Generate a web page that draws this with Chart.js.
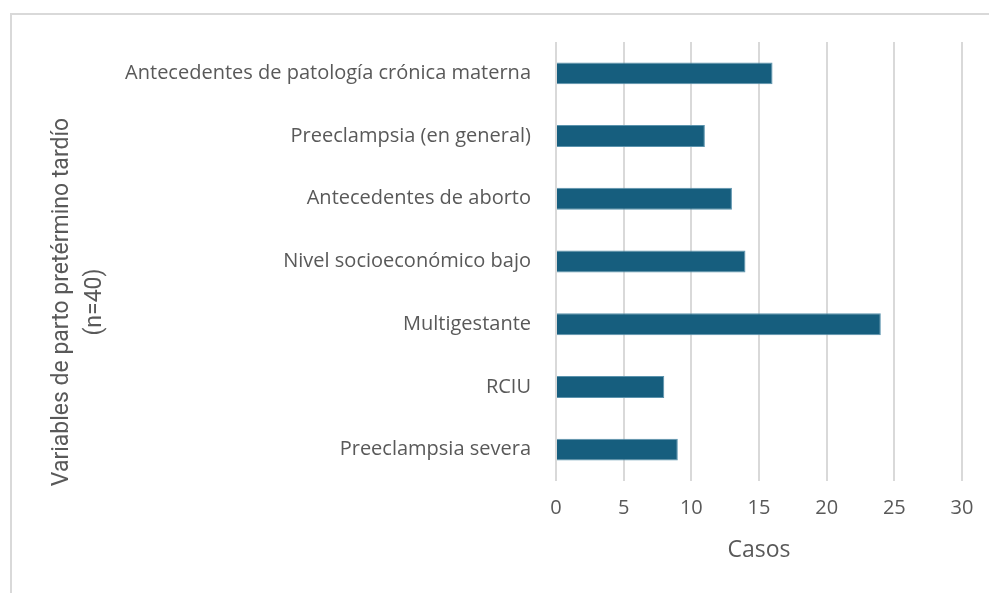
<!DOCTYPE html>
<html>
<head>
<meta charset="utf-8">
<script src="https://cdn.jsdelivr.net/npm/chart.js@4.4.1/dist/chart.umd.min.js"></script>
<style>
  html, body { margin: 0; padding: 0; background: #fff; }
  #wrap { position: relative; width: 989px; height: 593px; overflow: hidden; }
  #frame {
    position: absolute; left: 10px; top: 13px; width: 1000px; height: 600px;
    border-top: 2px solid #d9d9d9; border-left: 2px solid #d9d9d9;
  }
  canvas { position: absolute; left: 0; top: 0; }
</style>
</head>
<body>
<div id="wrap">
  <div id="frame"></div>
  <canvas id="chart" width="989" height="593"></canvas>
</div>
<script>
// data
const categories = [
  'Antecedentes de patología crónica materna',
  'Preeclampsia (en general)',
  'Antecedentes de aborto',
  'Nivel socioeconómico bajo',
  'Multigestante',
  'RCIU',
  'Preeclampsia severa'
];
const casos = [16, 11, 13, 14, 24, 8, 9];
const xMin = 0;
const xMax = 30;
const xStep = 5;

const yTitle = ['Variables de parto pretérmino tardío', '(n=40)'];
const xTitle = 'Casos';

const grayText = '#595959';
const gridGray = '#d9d9d9';
const barBlue = '#165e7e';

// the y title sits centred on the whole frame, not on the plot area,
// so it is drawn here instead of by the scale
const yTitlePlugin = {
    id: 'yTitleFrame',
    afterDraw(chart) {
        const c = chart.ctx;
        const lh = 33;
        c.save();
        c.fillStyle = grayText;
        c.font = "23px 'Roboto', 'Liberation Sans', sans-serif";
        c.textAlign = 'center';
        c.textBaseline = 'middle';
        c.translate(62, 302);
        c.rotate(-Math.PI / 2);
        yTitle.forEach((line, i) => c.fillText(line, 0, i * lh));
        c.restore();
    }
};

const ctx = document.getElementById('chart').getContext('2d');

new Chart(ctx, {
    type: 'bar',
    data: {
        labels: categories,
        datasets: [{
            label: 'Casos',
            data: casos,
            backgroundColor: barBlue,
            borderColor: '#5b93ad',
            borderWidth: 1,
            barPercentage: 0.35,
            categoryPercentage: 1.0
        }]
    },
    options: {
        indexAxis: 'y',
        responsive: false,
        animation: false,
        layout: { padding: { top: 42, right: 27, left: 0, bottom: 0 } },
        plugins: {
            legend: { display: false },
            tooltip: { enabled: false }
        },
        scales: {
            y: {
                grid: { display: false, drawTicks: false },
                border: { display: false },
                ticks: {
                    color: grayText,
                    padding: 25,
                    font: { family: 'Open Sans', size: 20 }
                },
                afterFit: (scale) => { scale.width = 556; }
            },
            x: {
                min: xMin,
                max: xMax,
                grid: { color: gridGray, lineWidth: 2, drawTicks: false },
                border: { display: false },
                ticks: {
                    stepSize: xStep,
                    color: grayText,
                    padding: 15,
                    font: { family: 'Open Sans', size: 20 }
                },
                title: {
                    display: true,
                    text: xTitle,
                    color: grayText,
                    padding: { top: 0, bottom: 29 },
                    font: { family: 'Open Sans', size: 23 }
                },
                afterFit: (scale) => { scale.height = 112; }
            }
        }
    },
    plugins: [yTitlePlugin]
});
</script>
</body>
</html>
